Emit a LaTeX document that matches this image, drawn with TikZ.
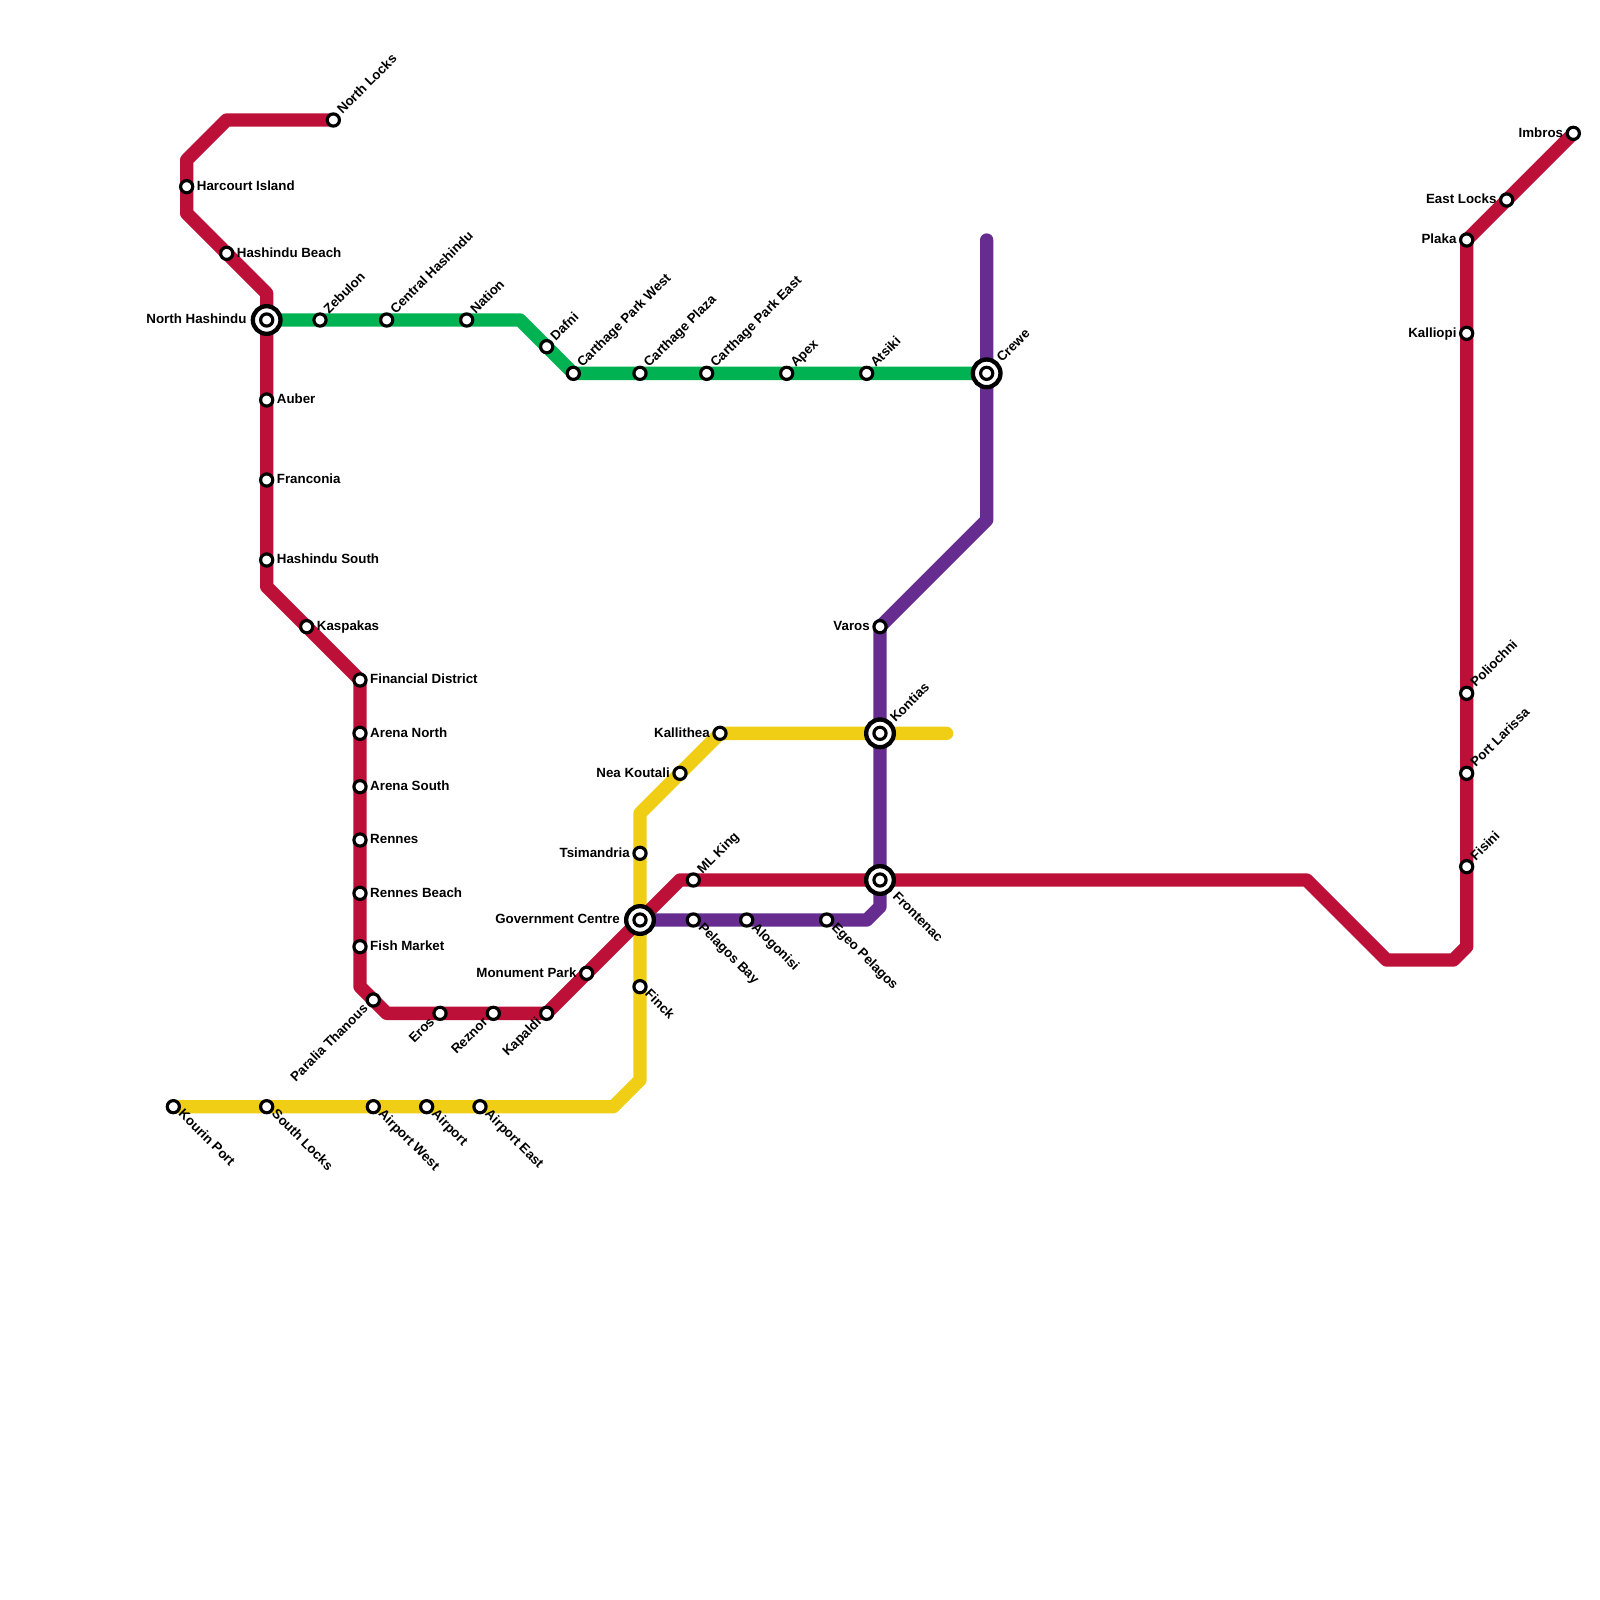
\documentclass[tikz,border=0pt]{standalone}
\usepackage{fontspec}
\setmainfont{Liberation Sans}
\usetikzlibrary{backgrounds}
\definecolor{redln}{HTML}{BD1038}
\definecolor{greenln}{HTML}{00B251}
\definecolor{yellowln}{HTML}{F0CE15}
\definecolor{purpleln}{HTML}{662C90}
\tikzset{
  metro/.style={line width=0.4cm,line cap=round,line join=round},
  stn/.style={circle,draw=black,fill=white,line width=0.095cm,minimum size=0.365cm,inner sep=0pt},
  xchg/.style={circle,draw=black,fill=white,line width=0.13cm,minimum size=0.83cm,inner sep=0pt},
  lbl/.style={inner sep=0pt,text height=8.2pt,text depth=2.4pt,font=\fontsize{11.38}{13}\selectfont\bfseries},
  lble/.style={lbl,anchor=west,xshift=0.30cm,yshift=-0.01cm},
  lblw/.style={lbl,anchor=east,xshift=-0.30cm,yshift=-0.01cm},
  lblxw/.style={lbl,anchor=east,xshift=-0.60cm,yshift=-0.01cm},
  lblne/.style={lbl,xshift=0.20cm,yshift=0.23cm,anchor=west,rotate=45},
  lblxne/.style={lbl,xshift=0.39cm,yshift=0.38cm,anchor=west,rotate=45},
  lblse/.style={lbl,xshift=0.20cm,yshift=-0.17cm,anchor=west,rotate=-45},
  lblxse/.style={lbl,xshift=0.43cm,yshift=-0.44cm,anchor=west,rotate=-45},
  lblsw/.style={lbl,xshift=-0.21cm,yshift=-0.21cm,anchor=east,rotate=45},
}
\begin{document}
\begin{tikzpicture}[x=0.4cm,y=-0.4cm]
\useasboundingbox (0,0) rectangle (120,120);
% interchanges
\node[xchg] (nhashO) at (20,24) {};
\node[xchg] (creweO) at (74,28) {};
\node[xchg] (kontiasO) at (66,55) {};
\node[xchg] (frontenacO) at (66,66) {};
\node[xchg] (govO) at (48,69) {};
% red line stations
\node[stn] (northlocks) at (25,9) {};
\node[stn] (harcourt) at (14,14) {};
\node[stn] (hbeach) at (17,19) {};
\node[stn] (nhash) at (20,24) {};
\node[stn] (auber) at (20,30) {};
\node[stn] (franconia) at (20,36) {};
\node[stn] (hsouth) at (20,42) {};
\node[stn] (kaspakas) at (23,47) {};
\node[stn] (findist) at (27,51) {};
\node[stn] (arenan) at (27,55) {};
\node[stn] (arenas) at (27,59) {};
\node[stn] (rennes) at (27,63) {};
\node[stn] (rbeach) at (27,67) {};
\node[stn] (fishmkt) at (27,71) {};
\node[stn] (paralia) at (28,75) {};
\node[stn] (eros) at (33,76) {};
\node[stn] (reznor) at (37,76) {};
\node[stn] (kapaldi) at (41,76) {};
\node[stn] (monument) at (44,73) {};
\node[stn] (gov) at (48,69) {};
\node[stn] (mlking) at (52,66) {};
\node[stn] (frontenac) at (66,66) {};
\node[stn] (fisini) at (110,65) {};
\node[stn] (portlar) at (110,58) {};
\node[stn] (polio) at (110,52) {};
\node[stn] (kalliopi) at (110,25) {};
\node[stn] (plaka) at (110,18) {};
\node[stn] (eastlocks) at (113,15) {};
\node[stn] (imbros) at (118,10) {};
% green line stations
\node[stn] (zebulon) at (24,24) {};
\node[stn] (centralh) at (29,24) {};
\node[stn] (nation) at (35,24) {};
\node[stn] (dafni) at (41,26) {};
\node[stn] (cpwest) at (43,28) {};
\node[stn] (cpplaza) at (48,28) {};
\node[stn] (cpeast) at (53,28) {};
\node[stn] (apex) at (59,28) {};
\node[stn] (atsiki) at (65,28) {};
\node[stn] (crewe) at (74,28) {};
% yellow line stations
\node[stn] (kourin) at (13,83) {};
\node[stn] (slocks) at (20,83) {};
\node[stn] (airportw) at (28,83) {};
\node[stn] (airport) at (32,83) {};
\node[stn] (airporte) at (36,83) {};
\node[stn] (finck) at (48,74) {};
\node[stn] (tsimandria) at (48,64) {};
\node[stn] (neak) at (51,58) {};
\node[stn] (kallithea) at (54,55) {};
\node[stn] (kontias) at (66,55) {};
% purple line stations
\node[stn] (varos) at (66,47) {};
\node[stn] (egeo) at (62,69) {};
\node[stn] (alogonisi) at (56,69) {};
\node[stn] (pelagos) at (52,69) {};
% bends and ends
\coordinate (ra) at (17,9);
\coordinate (rb) at (14,12);
\coordinate (rc) at (14,16);
\coordinate (rd) at (20,22);
\coordinate (re) at (20,44);
\coordinate (rf) at (27,74);
\coordinate (rg) at (29,76);
\coordinate (rh) at (51,66);
\coordinate (ri) at (98,66);
\coordinate (rj) at (104,72);
\coordinate (rk) at (109,72);
\coordinate (rl) at (110,71);
\coordinate (ga) at (39,24);
\coordinate (ya) at (46,83);
\coordinate (yb) at (48,81);
\coordinate (yc) at (48,61);
\coordinate (yd) at (71,55);
\coordinate (pa) at (74,18);
\coordinate (pb) at (74,39);
\coordinate (pc) at (66,68);
\coordinate (pd) at (65,69);
\begin{pgfonlayer}{background}
\draw[metro,yellowln] (kourin.center) -- (slocks.center) -- (airportw.center) -- (airport.center) -- (airporte.center) -- (ya) -- (yb) -- (finck.center) -- (gov.center) -- (tsimandria.center) -- (yc) -- (neak.center) -- (kallithea.center) -- (kontias.center) -- (yd);
\draw[metro,redln] (northlocks.center) -- (ra) -- (rb) -- (harcourt.center) -- (rc) -- (hbeach.center) -- (rd) -- (nhash.center) -- (auber.center) -- (franconia.center) -- (hsouth.center) -- (re) -- (kaspakas.center) -- (findist.center) -- (arenan.center) -- (arenas.center) -- (rennes.center) -- (rbeach.center) -- (fishmkt.center) -- (rf) -- (paralia.center) -- (rg) -- (eros.center) -- (reznor.center) -- (kapaldi.center) -- (monument.center) -- (gov.center) -- (rh) -- (mlking.center) -- (frontenac.center) -- (ri) -- (rj) -- (rk) -- (rl) -- (fisini.center) -- (portlar.center) -- (polio.center) -- (kalliopi.center) -- (plaka.center) -- (eastlocks.center) -- (imbros.center);
\draw[metro,greenln] (nhash.center) -- (zebulon.center) -- (centralh.center) -- (nation.center) -- (ga) -- (dafni.center) -- (cpwest.center) -- (cpplaza.center) -- (cpeast.center) -- (apex.center) -- (atsiki.center) -- (crewe.center);
\draw[metro,purpleln] (pa) -- (crewe.center) -- (pb) -- (varos.center) -- (kontias.center) -- (frontenac.center) -- (pc) -- (pd) -- (egeo.center) -- (alogonisi.center) -- (pelagos.center) -- (gov.center);
\end{pgfonlayer}
% labels
\node[lblne] (northlocksT) at (northlocks) {North Locks};
\node[lble] (harcourtT) at (harcourt) {Harcourt Island};
\node[lble] (hbeachT) at (hbeach) {Hashindu Beach};
\node[lblxw] (nhashT) at (nhash) {North Hashindu};
\node[lble] (auberT) at (auber) {Auber};
\node[lble] (franconiaT) at (franconia) {Franconia};
\node[lble] (hsouthT) at (hsouth) {Hashindu South};
\node[lble] (kaspakasT) at (kaspakas) {Kaspakas};
\node[lble] (findistT) at (findist) {Financial District};
\node[lble] (arenanT) at (arenan) {Arena North};
\node[lble] (arenasT) at (arenas) {Arena South};
\node[lble] (rennesT) at (rennes) {Rennes};
\node[lble] (rbeachT) at (rbeach) {Rennes Beach};
\node[lble] (fishmktT) at (fishmkt) {Fish Market};
\node[lblsw] (paraliaT) at (paralia) {Paralia Thanous};
\node[lblsw] (erosT) at (eros) {Eros};
\node[lblsw] (reznorT) at (reznor) {Reznor};
\node[lblsw] (kapaldiT) at (kapaldi) {Kapaldi};
\node[lblw] (monumentT) at (monument) {Monument Park};
\node[lblxw] (govT) at (gov) {Government Centre};
\node[lblne] (mlkingT) at (mlking) {ML King};
\node[lblxse] (frontenacT) at (frontenac) {Frontenac};
\node[lblne] (fisiniT) at (fisini) {Fisini};
\node[lblne] (portlarT) at (portlar) {Port Larissa};
\node[lblne] (polioT) at (polio) {Poliochni};
\node[lblw] (kalliopiT) at (kalliopi) {Kalliopi};
\node[lblw] (plakaT) at (plaka) {Plaka};
\node[lblw] (eastlocksT) at (eastlocks) {East Locks};
\node[lblw] (imbrosT) at (imbros) {Imbros};
\node[lblne] (zebulonT) at (zebulon) {Zebulon};
\node[lblne] (centralhT) at (centralh) {Central Hashindu};
\node[lblne] (nationT) at (nation) {Nation};
\node[lblne] (dafniT) at (dafni) {Dafni};
\node[lblne] (cpwestT) at (cpwest) {Carthage Park West};
\node[lblne] (cpplazaT) at (cpplaza) {Carthage Plaza};
\node[lblne] (cpeastT) at (cpeast) {Carthage Park East};
\node[lblne] (apexT) at (apex) {Apex};
\node[lblne] (atsikiT) at (atsiki) {Atsiki};
\node[lblxne] (creweT) at (crewe) {Crewe};
\node[lblse] (kourinT) at (kourin) {Kourin Port};
\node[lblse] (slocksT) at (slocks) {South Locks};
\node[lblse] (airportwT) at (airportw) {Airport West};
\node[lblse] (airportT) at (airport) {Airport};
\node[lblse] (airporteT) at (airporte) {Airport East};
\node[lblse] (finckT) at (finck) {Finck};
\node[lblw] (tsimandriaT) at (tsimandria) {Tsimandria};
\node[lblw] (neakT) at (neak) {Nea Koutali};
\node[lblw] (kallitheaT) at (kallithea) {Kallithea};
\node[lblxne] (kontiasT) at (kontias) {Kontias};
\node[lblw] (varosT) at (varos) {Varos};
\node[lblse] (egeoT) at (egeo) {Egeo Pelagos};
\node[lblse] (alogonisiT) at (alogonisi) {Alogonisi};
\node[lblse] (pelagosT) at (pelagos) {Pelagos Bay};
\end{tikzpicture}
\end{document}
